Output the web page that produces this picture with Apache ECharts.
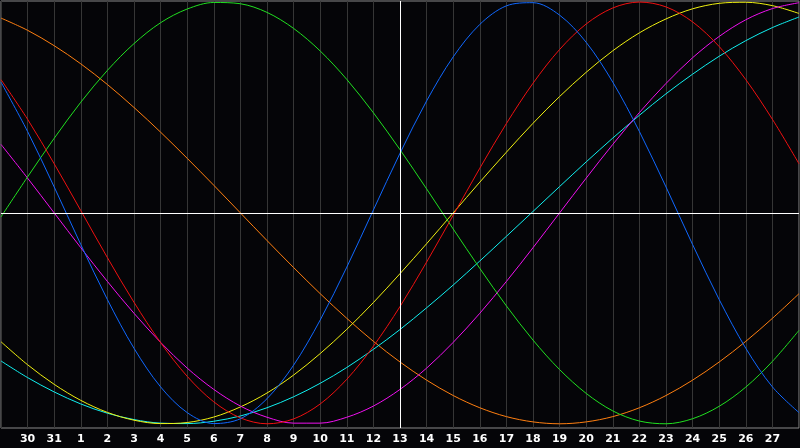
<!DOCTYPE html>
<html lang="en">
<head>
  <meta charset="UTF-8">
  <title>Biorhythm</title>
  <style>
    html, body { margin: 0; padding: 0; background: #050508; }
    #chart { width: 800px; height: 448px; }
  </style>
  <script src="https://cdn.jsdelivr.net/npm/echarts@6/dist/echarts.min.js"></script>
</head>
<body>
<div id="chart"></div>
<script>
  // day labels, one per column (first and last are not printed)
  var days = ['29', '30', '31', '1', '2', '3', '4', '5', '6', '7', '8', '9', '10', '11', '12',
              '13', '14', '15', '16', '17', '18', '19', '20', '21', '22', '23', '24', '25', '26', '27', '28'];
  var today = '13';

  // values, -1 .. 1
  var physical = [0.62, 0.386, 0.123, -0.15, -0.411, -0.642, -0.825, -0.947, -0.999, -0.976, -0.881,
                  -0.722, -0.508, -0.257, 0.014, 0.283, 0.531, 0.74, 0.894, 0.982, 0.997, 0.938,
                  0.809, 0.62, 0.386, 0.123, -0.15, -0.411, -0.642, -0.825, -0.947];
  var emotional = [0.632, 0.444, 0.233, 0.011, -0.212, -0.424, -0.615, -0.775, -0.896, -0.972, -1.0,
                   -0.977, -0.906, -0.789, -0.632, -0.444, -0.233, -0.011, 0.212, 0.424, 0.615, 0.775,
                   0.896, 0.972, 1.0, 0.977, 0.906, 0.789, 0.632, 0.444, 0.233];
  var intellectual = [-0.019, 0.171, 0.354, 0.525, 0.676, 0.803, 0.902, 0.967, 0.998, 0.992, 0.951,
                      0.875, 0.768, 0.633, 0.475, 0.3, 0.114, -0.076, -0.263, -0.441, -0.603, -0.743,
                      -0.856, -0.939, -0.987, -1.0, -0.976, -0.917, -0.826, -0.704, -0.557];
  var intuitive = [0.325, 0.165, 0.0, -0.165, -0.325, -0.476, -0.614, -0.736, -0.837, -0.916, -0.969,
                   -0.997, -0.997, -0.969, -0.916, -0.837, -0.736, -0.614, -0.476, -0.325, -0.165, 0.0,
                   0.165, 0.325, 0.476, 0.614, 0.736, 0.837, 0.916, 0.969, 0.997];
  var aesthetic = [-0.611, -0.72, -0.813, -0.889, -0.946, -0.983, -0.999, -0.994, -0.968, -0.92, -0.854,
                   -0.769, -0.667, -0.552, -0.425, -0.288, -0.146, 0.0, 0.146, 0.288, 0.425, 0.552,
                   0.667, 0.769, 0.854, 0.92, 0.968, 0.994, 0.999, 0.983, 0.946];
  var awareness = [0.924, 0.866, 0.793, 0.707, 0.609, 0.5, 0.383, 0.259, 0.131, 0.0, -0.131,
                   -0.259, -0.383, -0.5, -0.609, -0.707, -0.793, -0.866, -0.924, -0.966, -0.991, -1.0,
                   -0.991, -0.966, -0.924, -0.866, -0.793, -0.707, -0.609, -0.5, -0.383];
  var spiritual = [-0.702, -0.781, -0.849, -0.906, -0.95, -0.98, -0.997, -0.999, -0.988, -0.963, -0.924,
                   -0.872, -0.808, -0.733, -0.647, -0.553, -0.45, -0.342, -0.228, -0.111, 0.007, 0.125,
                   0.242, 0.355, 0.463, 0.565, 0.658, 0.743, 0.817, 0.879, 0.929];

  var myChart = echarts.init(document.getElementById('chart'));

  function curve(name, data, color) {
    return {
      name: name,
      type: 'line',
      data: data,
      smooth: 0.33,
      symbol: 'none',
      silent: true,
      lineStyle: { color: color, width: 1 }
    };
  }

  var series = [
    curve('Awareness', awareness, '#ff7f10'),
    curve('Spiritual', spiritual, '#10f0f0'),
    curve('Aesthetic', aesthetic, '#f0f010'),
    curve('Intuitive', intuitive, '#f010f0'),
    curve('Intellectual', intellectual, '#20e020'),
    curve('Emotional', emotional, '#f01010'),
    curve('Physical', physical, '#1068ff')
  ];
  // white cross: zero line and today
  series[0].markLine = {
    silent: true,
    symbol: 'none',
    label: { show: false },
    lineStyle: { color: '#ffffff', width: 1, type: 'solid' },
    data: [{ yAxis: 0 }, { xAxis: today }]
  };

  option = {
    backgroundColor: '#050508',
    animation: false,
    grid: {
      left: 1, right: 1, top: 1, bottom: 20,
      show: true,
      borderColor: '#8a8a8a',
      borderWidth: 1,
      backgroundColor: 'transparent'
    },
    xAxis: {
      type: 'category',
      data: days,
      boundaryGap: false,
      axisLine: { show: false },
      axisTick: { show: false },
      axisLabel: {
        interval: function (i) { return i > 0 && i < days.length - 1; },
        color: '#ffffff',
        fontFamily: 'DejaVu Sans',
        fontWeight: 'bold',
        fontSize: 11,
        margin: 6
      },
      splitLine: { show: true, interval: 0, lineStyle: { color: '#363636', width: 1 } }
    },
    yAxis: {
      type: 'value',
      min: -1.02,
      max: 1.005,
      show: false,
      splitLine: { show: false }
    },
    series: series
  };

  myChart.setOption(option);
</script>
</body>
</html>
